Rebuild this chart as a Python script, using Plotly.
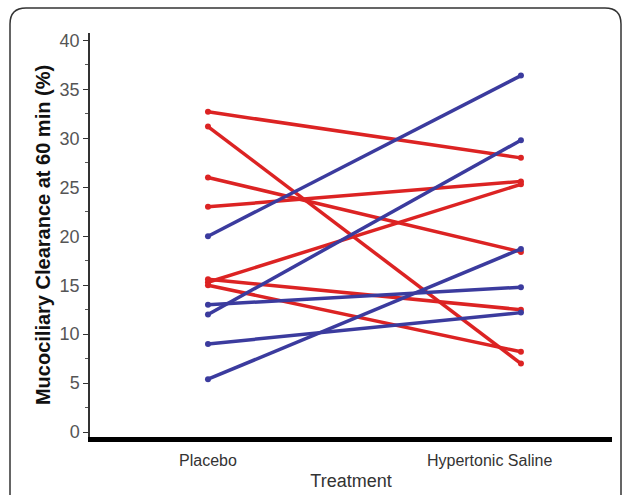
import plotly.graph_objects as go

# Data
categories = ["Placebo", "Hypertonic Saline"]
placebo_red = [32.7, 31.2, 26.0, 23.0, 15.3, 15.6, 15.0]
saline_red = [28.0, 7.0, 18.4, 25.6, 25.3, 12.5, 8.2]
placebo_blue = [20.0, 12.0, 13.0, 5.4, 9.0]
saline_blue = [36.4, 29.8, 14.8, 18.7, 12.2]
y_ticks = [0, 5, 10, 15, 20, 25, 30, 35, 40]

RED = "#dc2323"
BLUE = "#3b3b9e"
X_POS = [0, 1]

fig = go.Figure()
for p, h in zip(placebo_red, saline_red):
    fig.add_trace(go.Scatter(x=X_POS, y=[p, h], mode="lines+markers",
                             line=dict(color=RED, width=3.5),
                             marker=dict(color=RED, size=6), showlegend=False))
for p, h in zip(placebo_blue, saline_blue):
    fig.add_trace(go.Scatter(x=X_POS, y=[p, h], mode="lines+markers",
                             line=dict(color=BLUE, width=3.5),
                             marker=dict(color=BLUE, size=6), showlegend=False))

# frame (rounded top corners) in paper coords
L, R, T, B = 90, 612, 33, 437
def px(x):
    return (x - L) / (R - L)
def py(y):
    return (B - y) / (B - T)
fx0, fx1, fy0, fy1, r = 10, 621, 8, 505, 16
path = (f"M {px(fx0)},{py(fy1)} L {px(fx0)},{py(fy0 + r)} "
        f"Q {px(fx0)},{py(fy0)} {px(fx0 + r)},{py(fy0)} "
        f"L {px(fx1 - r)},{py(fy0)} Q {px(fx1)},{py(fy0)} {px(fx1)},{py(fy0 + r)} "
        f"L {px(fx1)},{py(fy1)}")
fig.add_shape(type="path", path=path, xref="paper", yref="paper",
              line=dict(color="#333333", width=1.5), layer="below")

fig.update_layout(
    width=627, height=495,
    margin=dict(l=L, r=627 - R, t=T, b=495 - B),
    paper_bgcolor="white", plot_bgcolor="white",
    font=dict(family="Liberation Sans, Arial, sans-serif", color="#333333"),
    xaxis=dict(
        range=[-0.377, 1.291], tickvals=[0, 0.9], ticktext=categories,
        showgrid=False, zeroline=False, showline=True, linecolor="black",
        linewidth=5, ticks="", tickfont=dict(size=16, color="#333333"),
        ticklabelstandoff=5,
        automargin=False,
        title=dict(text="Treatment", font=dict(size=18, color="#333333"), standoff=8),
    ),
    yaxis=dict(
        range=[-0.5, 40.75], tickvals=y_ticks, showgrid=False, zeroline=False,
        showline=True, linecolor="#333333", linewidth=1.5,
        ticks="outside", ticklen=5, tickcolor="#333333", tickwidth=1.2,
        minor=dict(dtick=2.5, tick0=0, ticks="outside", ticklen=3, tickcolor="#555555", tickwidth=1),
        tickfont=dict(size=18, color="#555555"),
        automargin=False,
        title=dict(text="<b>Mucociliary Clearance at 60 min (%)</b>",
                   font=dict(size=20, color="#111111"), standoff=4),
    ),
)

fig.write_html("out.html", config={"displayModeBar": False},
               post_script="document.body.style.margin='0';document.body.style.padding='0';")
